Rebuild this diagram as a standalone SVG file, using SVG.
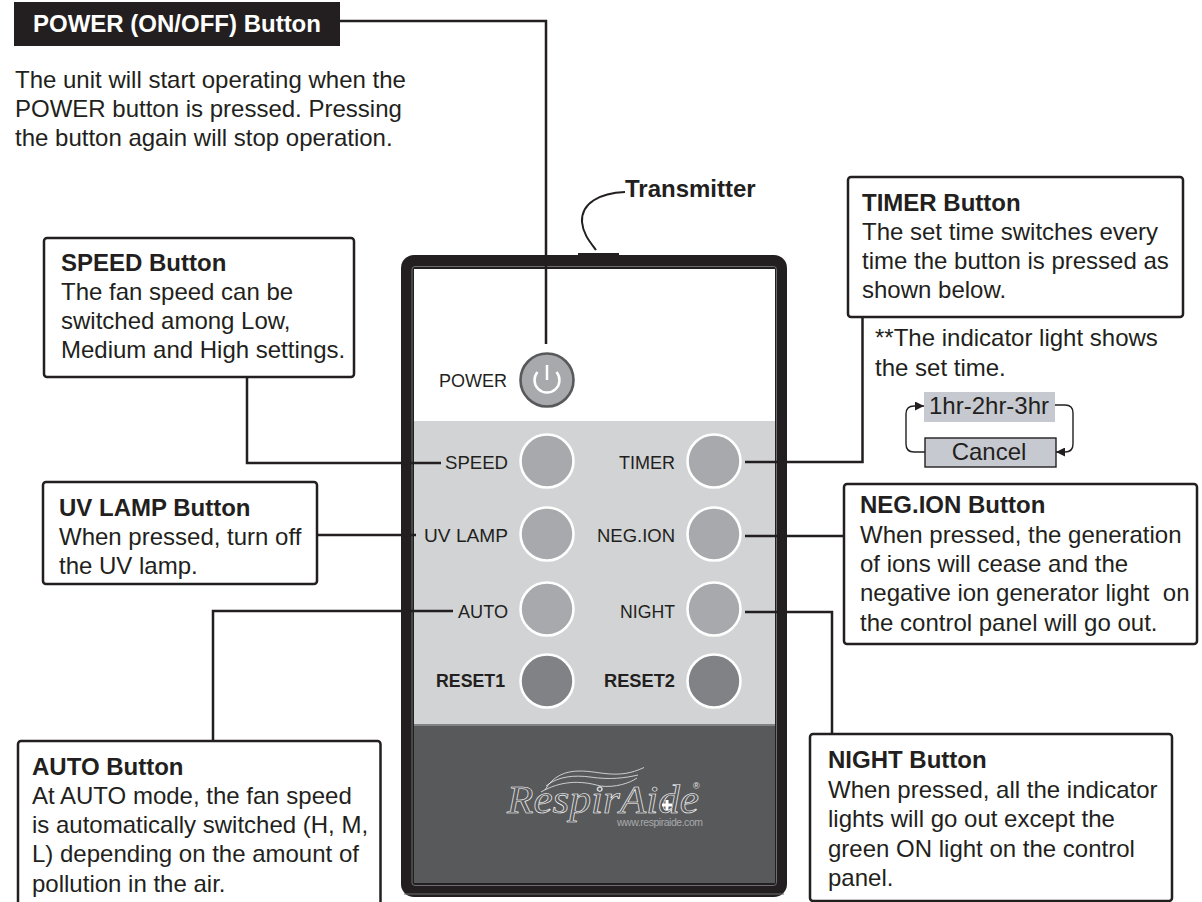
<svg xmlns="http://www.w3.org/2000/svg" width="1202" height="902" viewBox="0 0 1202 902">
<style>
text{font-family:"Liberation Sans",Arial,sans-serif;font-size:24px;fill:#231f20}
.b{font-weight:bold}
.box{fill:#fff;stroke:#231f20;stroke-width:2.5}
.conn{fill:none;stroke:#231f20;stroke-width:2.5}
.thin{fill:none;stroke:#231f20;stroke-width:1.4}
.lbl{font-size:18px;text-anchor:end}
.btn{fill:#a7a9ac;stroke:#fff;stroke-width:2.6}
.rst{fill:#808285;stroke:#fff;stroke-width:2.6}
.logo{fill:none;stroke:#fff;stroke-width:.7}
</style>
<defs>
<marker id="ah" viewBox="0 0 8 8" refX="8" refY="4" markerWidth="9" markerHeight="9" markerUnits="userSpaceOnUse" orient="auto"><path d="M0 0L8 4L0 8Z" fill="#231f20"/></marker>
</defs>
<rect width="1202" height="902" fill="#fff"/>
<g id="remote">
<rect x="401" y="255" width="386" height="642" rx="13" fill="#231f20"/>
<rect x="578" y="253" width="41" height="4" fill="#231f20"/>
<rect x="412" y="266.500" width="364.500" height="619" rx="3" fill="none" stroke="#6d6e71" stroke-width="1"/>
<rect x="414" y="269" width="361" height="152" fill="#fff"/>
<rect x="414" y="421" width="361" height="304" fill="#d1d3d4"/>
<rect x="414" y="725" width="361" height="158" fill="#58595b"/>
<rect x="414" y="724" width="361" height="2" fill="#808285"/>
<path d="M404 894H784" stroke="#6d6e71" stroke-width="1" fill="none"/>
</g>
<g id="logo">
<text x="507" y="813" textLength="192" lengthAdjust="spacingAndGlyphs" style="font-family:'Liberation Serif',serif;font-style:italic;font-size:40px;fill:none;stroke:#fff;stroke-width:.6">RespirAide</text>
<path class="logo" d="M545 790C553 776 565 771 580 771C600 771 618 780 644 767.500"/>
<path class="logo" d="M546 786C558 776 575 775 590 777C610 780 625 778 638 775"/>
<path class="logo" d="M541 792C560 781 580 780 600 786C615 788 630 783 637 778"/>
<circle class="logo" cx="600" cy="789" r="2.300"/>
<path d="M667 800V810M662 805H672" stroke="#fff" stroke-width="3" fill="none"/>
<text x="693" y="789" style="font-size:9px;fill:#e6e7e8">®</text>
<text x="617" y="826" textLength="86" style="font-size:10.500px;fill:#a7a9ac">www.respiraide.com</text>
</g>
<g id="btn-power">
<circle cx="547" cy="380" r="26.500" fill="#a7a9ac" stroke="#58595b" stroke-width="2.600"/>
<path d="M537.500 372A12.500 12.500 0 1 0 556.500 372M547 365V380" fill="none" stroke="#fff" stroke-width="2.500"/>
<text class="lbl" x="507" y="387" textLength="68" lengthAdjust="spacingAndGlyphs">POWER</text>
</g>
<g id="btn-speed"><circle class="btn" cx="547" cy="461" r="26.500"/><text class="lbl" x="508" y="469" textLength="63" lengthAdjust="spacingAndGlyphs">SPEED</text></g>
<g id="btn-timer"><circle class="btn" cx="714" cy="461" r="26.500"/><text class="lbl" x="675" y="469" textLength="56" lengthAdjust="spacingAndGlyphs">TIMER</text></g>
<g id="btn-uv"><circle class="btn" cx="547" cy="534" r="26.500"/><text class="lbl" x="508" y="542" textLength="84" lengthAdjust="spacingAndGlyphs">UV LAMP</text></g>
<g id="btn-neg"><circle class="btn" cx="714" cy="534" r="26.500"/><text class="lbl" x="675" y="542" textLength="78" lengthAdjust="spacingAndGlyphs">NEG.ION</text></g>
<g id="btn-auto"><circle class="btn" cx="547" cy="609" r="26.500"/><text class="lbl" x="508" y="618" textLength="50" lengthAdjust="spacingAndGlyphs">AUTO</text></g>
<g id="btn-night"><circle class="btn" cx="714" cy="609" r="26.500"/><text class="lbl" x="675" y="618" textLength="55" lengthAdjust="spacingAndGlyphs">NIGHT</text></g>
<g id="btn-reset1"><circle class="rst" cx="547" cy="681" r="26.500"/><text class="lbl b" x="505" y="687" textLength="69" lengthAdjust="spacingAndGlyphs">RESET1</text></g>
<g id="btn-reset2"><circle class="rst" cx="714" cy="681" r="26.500"/><text class="lbl b" x="675" y="687" textLength="71" lengthAdjust="spacingAndGlyphs">RESET2</text></g>
<g id="connectors">
<path class="conn" d="M340 21H546V344"/>
<path class="conn" d="M247 377V463H441"/>
<path class="conn" d="M317 535H416"/>
<path class="conn" d="M213 741V611H453"/>
<path class="conn" d="M832 734V612H745"/>
<path class="conn" d="M844 536H745"/>
<path class="conn" d="M862.500 317V462H745"/>
<path class="conn" d="M625 192C600 193 581 203 582 222C583 234 590 242 596 250" style="stroke-width:2"/>
<path class="thin" d="M925 452H914Q906 452 906 444V414Q906 406 914 406H924" marker-end="url(#ah)"/>
<path class="thin" d="M1055 405H1065Q1073 405 1073 413V444Q1073 452 1065 452H1056" marker-end="url(#ah)"/>
</g>
<g id="power-title">
<rect x="14" y="2" width="326" height="44" fill="#231f20"/>
<text class="b" x="33" y="32" style="fill:#fff">POWER (ON/OFF) Button</text>
</g>
<g id="power-text">
<text x="15" y="88">The unit will start operating when the</text>
<text x="15" y="117">POWER button is pressed. Pressing</text>
<text x="15" y="146">the button again will stop operation.</text>
</g>
<g id="transmitter"><text class="b" x="625" y="197">Transmitter</text></g>
<g id="speed-box">
<rect class="box" x="44" y="238" width="310" height="139" rx="3"/>
<text class="b" x="61" y="271">SPEED Button</text>
<text x="61" y="300">The fan speed can be</text>
<text x="61" y="329">switched among Low,</text>
<text x="61" y="358">Medium and High settings.</text>
</g>
<g id="uv-box">
<rect class="box" x="43" y="482" width="274" height="102" rx="3"/>
<text class="b" x="59" y="516">UV LAMP Button</text>
<text x="59" y="545">When pressed, turn off</text>
<text x="59" y="574">the UV lamp.</text>
</g>
<g id="auto-box">
<rect class="box" x="18" y="741" width="362.500" height="180" rx="3"/>
<text class="b" x="32" y="775">AUTO Button</text>
<text x="32" y="804">At AUTO mode, the fan speed</text>
<text x="32" y="833">is automatically switched (H, M,</text>
<text x="32" y="862">L) depending on the amount of</text>
<text x="32" y="892">pollution in the air.</text>
</g>
<g id="timer-box">
<rect class="box" x="848" y="177" width="335" height="140" rx="3"/>
<text class="b" x="862" y="211">TIMER Button</text>
<text x="862" y="240">The set time switches every</text>
<text x="862" y="269">time the button is pressed as</text>
<text x="862" y="298">shown below.</text>
</g>
<g id="timer-note">
<text x="875" y="346">**The indicator light shows</text>
<text x="875" y="376">the set time.</text>
</g>
<g id="cycle-times">
<rect x="924" y="392" width="131" height="30" fill="#c7c9d0"/>
<text x="929" y="414">1hr-2hr-3hr</text>
</g>
<g id="cycle-cancel">
<rect x="925" y="438" width="131" height="29" fill="#c7c9d0" stroke="#231f20" stroke-width="1.400"/>
<text x="989" y="460" text-anchor="middle">Cancel</text>
</g>
<g id="neg-box">
<rect class="box" x="844" y="484" width="353" height="160" rx="3"/>
<text class="b" x="860" y="513">NEG.ION Button</text>
<text x="860" y="543">When pressed, the generation</text>
<text x="860" y="572">of ions will cease and the</text>
<text x="860" y="601" xml:space="preserve">negative ion generator light  on</text>
<text x="860" y="631">the control panel will go out.</text>
</g>
<g id="night-box">
<rect class="box" x="810" y="734" width="362" height="167" rx="3"/>
<text class="b" x="828" y="768">NIGHT Button</text>
<text x="828" y="798">When pressed, all the indicator</text>
<text x="828" y="827">lights will go out except the</text>
<text x="828" y="857">green ON light on the control</text>
<text x="828" y="886">panel.</text>
</g>
</svg>
